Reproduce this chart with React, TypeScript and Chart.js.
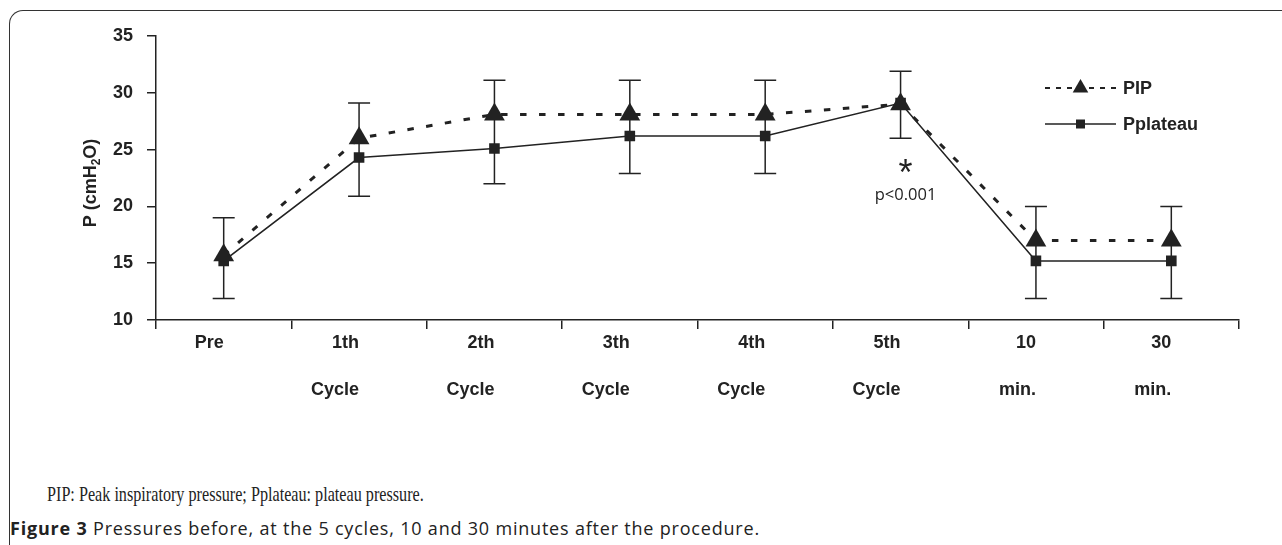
import React, { useEffect, useRef } from "react";
import { Chart, registerables } from "chart.js";

Chart.register(...registerables);

const categories: string[][] = [
  ["Pre"],
  ["1th", "", "Cycle"],
  ["2th", "", "Cycle"],
  ["3th", "", "Cycle"],
  ["4th", "", "Cycle"],
  ["5th", "", "Cycle"],
  ["10", "", "min."],
  ["30", "", "min."],
];
const pipValues = [15.7, 26.0, 28.1, 28.1, 28.1, 29.0, 17.0, 17.0];
const plateauValues = [15.2, 24.3, 25.1, 26.2, 26.2, 29.1, 15.2, 15.2];
const errHigh = [19.0, 29.1, 31.1, 31.1, 31.1, 31.9, 20.0, 20.0];
const errLow = [11.9, 20.9, 22.0, 22.9, 22.9, 26.0, 11.9, 11.9];
const yTicks = [10, 15, 20, 25, 30, 35];
const seriesNames = ["PIP", "Pplateau"];
const sigIndex = 5;
const sigLabel = "p<0.001";

const INK = "#222222";
const AXIS_FONT = "'Liberation Sans', Arial, sans-serif";
const FS = 18;

const overlayPlugin = {
  id: "overlay",
  beforeDatasetsDraw(chart: any) {
    const ctx = chart.ctx;
    const x = chart.scales.x;
    const y = chart.scales.y;
    ctx.save();
    ctx.strokeStyle = INK;
    ctx.lineWidth = 1.5;
    for (let i = 0; i < errHigh.length; i++) {
      const px = x.getPixelForValue(i);
      const top = y.getPixelForValue(errHigh[i]);
      const bot = y.getPixelForValue(errLow[i]);
      ctx.beginPath();
      ctx.moveTo(px, top);
      ctx.lineTo(px, bot);
      ctx.moveTo(px - 11, top);
      ctx.lineTo(px + 11, top);
      ctx.moveTo(px - 11, bot);
      ctx.lineTo(px + 11, bot);
      ctx.stroke();
    }
    ctx.restore();
  },
  afterDraw(chart: any) {
    const ctx = chart.ctx;
    const x = chart.scales.x;
    const y = chart.scales.y;
    ctx.save();
    // y axis title with subscript
    ctx.fillStyle = INK;
    const cx = 90;
    const cy = (chart.chartArea.top + chart.chartArea.bottom) / 2 + 5;
    ctx.translate(cx, cy);
    ctx.rotate(-Math.PI / 2);
    const big = `bold ${FS}px ${AXIS_FONT}`;
    const small = `bold 12px ${AXIS_FONT}`;
    ctx.font = big;
    const w1 = ctx.measureText("P (cmH").width;
    const w3 = ctx.measureText("O)").width;
    ctx.font = small;
    const w2 = ctx.measureText("2").width;
    const total = w1 + w2 + w3;
    ctx.textBaseline = "alphabetic";
    ctx.textAlign = "left";
    let sx = -total / 2;
    ctx.font = big;
    ctx.fillText("P (cmH", sx, 6);
    sx += w1;
    ctx.font = small;
    ctx.fillText("2", sx, 10);
    sx += w2;
    ctx.font = big;
    ctx.fillText("O)", sx, 6);
    ctx.restore();

    // significance annotation
    ctx.save();
    ctx.fillStyle = INK;
    ctx.textAlign = "center";
    ctx.textBaseline = "middle";
    const ax = x.getPixelForValue(sigIndex) + 5;
    const ay = y.getPixelForValue(errLow[sigIndex]);
    ctx.font = "36px 'Liberation Sans', Arial, sans-serif";
    ctx.fillText("*", ax, ay + 37);
    ctx.font = "16.5px 'Open Sans', sans-serif";
    ctx.fillText(sigLabel, ax, ay + 57);
    ctx.restore();

    // legend
    ctx.save();
    ctx.strokeStyle = INK;
    ctx.fillStyle = INK;
    const lx0 = 1045;
    const lx1 = 1116;
    const lmid = (lx0 + lx1) / 2;
    const ly1 = 88;
    const ly2 = 124;
    ctx.lineWidth = 2;
    ctx.setLineDash([5, 6]);
    ctx.beginPath();
    ctx.moveTo(lx0, ly1);
    ctx.lineTo(lx1, ly1);
    ctx.stroke();
    ctx.setLineDash([]);
    ctx.beginPath();
    const r = 9;
    ctx.moveTo(lmid, ly1 - r);
    ctx.lineTo(lmid + r * 0.866, ly1 + r / 2);
    ctx.lineTo(lmid - r * 0.866, ly1 + r / 2);
    ctx.closePath();
    ctx.fill();
    ctx.lineWidth = 1.6;
    ctx.beginPath();
    ctx.moveTo(lx0, ly2);
    ctx.lineTo(lx1, ly2);
    ctx.stroke();
    ctx.fillRect(lmid - 4.5, ly2 - 4.5, 9, 9);
    ctx.font = `bold ${FS}px ${AXIS_FONT}`;
    ctx.textAlign = "left";
    ctx.textBaseline = "middle";
    ctx.fillText(seriesNames[0], 1123, ly1 + 1);
    ctx.fillText(seriesNames[1], 1123, ly2 + 1);
    ctx.restore();
  },
};

function PressureChart() {
  const ref = useRef<HTMLCanvasElement | null>(null);
  useEffect(() => {
    if (!ref.current) return;
    const chart = new Chart(ref.current, {
      type: "line",
      data: {
        labels: categories as any,
        datasets: [
          {
            label: seriesNames[0],
            data: pipValues,
            borderColor: INK,
            backgroundColor: INK,
            borderWidth: 3,
            borderDash: [6.5, 12.5],
            pointStyle: "triangle",
            pointRadius: 12,
            pointBorderWidth: 0,
            pointBackgroundColor: INK,
            tension: 0,
          },
          {
            label: seriesNames[1],
            data: plateauValues,
            borderColor: INK,
            backgroundColor: INK,
            borderWidth: 1.6,
            pointStyle: "rect",
            pointRadius: 7.5,
            pointBorderWidth: 0,
            pointBackgroundColor: INK,
            tension: 0,
          },
        ],
      },
      options: {
        animation: false,
        responsive: false,
        devicePixelRatio: 1,
        layout: { padding: { left: 0, right: 43, top: 36, bottom: 0 } },
        plugins: {
          legend: { display: false },
          tooltip: { enabled: false },
          title: { display: false },
        },
        scales: {
          x: {
            type: "category",
            offset: true,
            grid: {
              offset: true,
              drawOnChartArea: false,
              drawTicks: true,
              tickLength: 9,
              color: INK,
              lineWidth: 1.5,
            },
            border: { display: true, color: INK, width: 1.5 },
            ticks: {
              align: "end",
              padding: 2,
              autoSkip: false,
              maxRotation: 0,
              color: INK,
              font: { family: AXIS_FONT, size: FS, weight: "bold", lineHeight: 23.5 / FS },
            },
            afterFit: (s: any) => {
              s.height = 120;
            },
          },
          y: {
            min: yTicks[0],
            max: yTicks[yTicks.length - 1],
            afterBuildTicks: (s: any) => {
              s.ticks = yTicks.map((v) => ({ value: v }));
            },
            grid: {
              drawOnChartArea: false,
              drawTicks: true,
              tickLength: 9,
              color: INK,
              lineWidth: 1.5,
            },
            border: { display: true, color: INK, width: 1.5 },
            ticks: {
              padding: 14,
              color: INK,
              font: { family: AXIS_FONT, size: FS, weight: "bold" },
            },
            afterFit: (s: any) => {
              s.width = 156;
            },
          },
        },
      },
      plugins: [overlayPlugin],
    });
    return () => chart.destroy();
  }, []);
  return (
    <canvas
      ref={ref}
      width={1282}
      height={440}
      style={{ position: "absolute", left: 0, top: 0, width: 1282, height: 440 }}
    />
  );
}

export default function App() {
  return (
    <div
      style={{
        position: "fixed",
        left: 0,
        top: 0,
        width: 1282,
        height: 545,
        overflow: "hidden",
        background: "#fff",
      }}
    >
      <div
        style={{
          position: "absolute",
          left: 9,
          top: 9.5,
          width: 1400,
          height: 700,
          borderTop: "1.5px solid #333",
          borderLeft: "1.5px solid #333",
          borderTopLeftRadius: 14,
        }}
      />
      <PressureChart />
      <div
        style={{
          position: "absolute",
          left: 47,
          top: 482,
          fontFamily: "'Liberation Serif', 'Times New Roman', serif",
          fontSize: 21,
          color: "#222",
          whiteSpace: "nowrap",
          transform: "scaleX(0.77)",
          transformOrigin: "left top",
        }}
      >
        PIP: Peak inspiratory pressure; Pplateau: plateau pressure.
      </div>
      <div
        style={{
          position: "absolute",
          left: 10,
          top: 516,
          fontFamily: "'Open Sans', sans-serif",
          fontSize: 18,
          letterSpacing: 0.8,
          color: "#222",
          whiteSpace: "nowrap",
        }}
      >
        <b>Figure 3</b> Pressures before, at the 5 cycles, 10 and 30 minutes after the procedure.
      </div>
    </div>
  );
}
